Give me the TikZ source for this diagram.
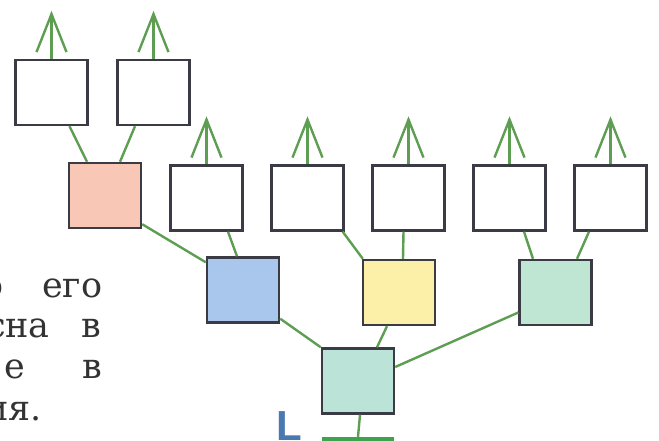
\documentclass[tikz,border=0pt]{standalone}
\usepackage{fontspec}
\setmainfont{DejaVu Serif}
\setsansfont{Liberation Sans}
\usetikzlibrary{arrows.meta,positioning}

\definecolor{twig}{HTML}{5E9E52}
\definecolor{boxline}{HTML}{3A3B45}
\definecolor{ink}{HTML}{333333}
\definecolor{peach}{HTML}{F8C7B6}
\definecolor{sky}{HTML}{A9C6EC}
\definecolor{lemon}{HTML}{FCF0A8}
\definecolor{mint}{HTML}{BFE6D2}
\definecolor{sea}{HTML}{BBE3D8}
\definecolor{grass}{HTML}{3FA24E}
\definecolor{steel}{HTML}{4A78B0}

\begin{document}
\begin{tikzpicture}[x=1pt,y=-1pt,on grid,node distance=101pt,
    >={Straight Barb[length=38pt,width=30pt]},
    every node/.style={inner sep=0pt},
    cell/.style={draw=boxline,line width=2.4pt,minimum width=72pt,minimum height=65pt,fill=white},
    branch/.style={draw=twig,line width=2.4pt},
    shoot/.style={->,draw=twig,line width=2.4pt},
    word/.style={font=\fontsize{35}{40}\selectfont,text=ink}]
  \clip (0,0) rectangle (659,441);

  % top pair
  \node[cell] (t1) at (51.5,92.5) {};
  \node[cell] (t2) [right=102pt of t1] {};

  % second row
  \node[cell] (w3) at (206.5,198) {};
  \node[cell] (w4) [right=of w3] {};
  \node[cell] (w5) [right=of w4] {};
  \node[cell] (w6) [right=of w5] {};
  \node[cell] (w7) [right=of w6] {};

  % coloured cells
  \node[cell,fill=peach] (s) at (105,195.5) {};
  \node[cell,fill=sky]   (b) at (243,290) {};
  \node[cell,fill=lemon] (y) at (399,292.5) {};
  \node[cell,fill=mint]  (g) at (555.5,292.5) {};
  \node[cell,fill=sea]   (r) at (358,381) {};

  \node[fill=grass,minimum width=72pt,minimum height=6pt] (soil) at (358,440) {};
  \node[anchor=base west,font=\sffamily\bfseries\fontsize{42}{42}\selectfont,text=steel] (lbl) at (276,440) {L};

  % branches
  \draw[branch] ([xshift=18pt]t1.south) -- ([xshift=-18pt]s.north);
  \draw[branch] ([xshift=-18.5pt]t2.south) -- ([xshift=15pt]s.north);
  \draw[branch] ([yshift=5pt]s.south east) -- ([yshift=-6pt]b.north west);
  \draw[branch] ([xshift=21.5pt]w3.south) -- ([xshift=-6pt]b.north);
  \draw[branch] ([yshift=5pt]b.south east) -- (r.north west);
  \draw[branch] ([xshift=-2pt]w4.south east) -- ([xshift=1pt]y.north west);
  \draw[branch] ([xshift=-5pt]w5.south) -- ([xshift=4pt]y.north);
  \draw[branch] ([xshift=-12pt]y.south) -- ([xshift=19pt]r.north);
  \draw[branch] ([yshift=14pt]r.east) -- ([yshift=-20pt]g.west);
  \draw[branch] ([xshift=14.5pt]w6.south) -- ([xshift=-22.5pt]g.north);
  \draw[branch] ([xshift=-21.5pt]w7.south) -- ([xshift=21.5pt]g.north);
  \draw[branch] ([xshift=2pt]r.south) -- (soil.north);

  \foreach \n in {t1,t2,w3,w4,w5,w6,w7}
    \draw[shoot] (\n.north) -- ([yshift=48pt]\n.north);

  % text cut off at the left
  \node[word,anchor=base east] (o1) at (4,297) {о};
  \node[word,anchor=base west] (o2) at (42,297) {его};
  \node[word,anchor=base east] (c1) at (50,337) {сна};
  \node[word,anchor=base west] (c2) at (81,337) {в};
  \node[word,anchor=base east] (e1) at (25,378) {е};
  \node[word,anchor=base west] (e2) at (82,378) {в};
  \node[word,anchor=base east] (i1) at (42,420) {ия.};
\end{tikzpicture}
\end{document}
